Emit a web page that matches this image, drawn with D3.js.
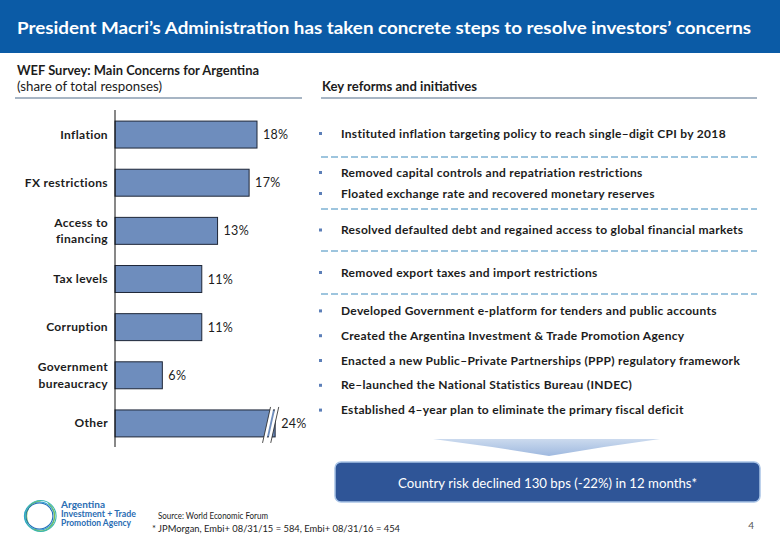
<!DOCTYPE html>
<html>
<head>
<meta charset="utf-8">
<script src="https://cdn.jsdelivr.net/npm/d3@7"></script>
<style>
  html, body { margin: 0; padding: 0; background: #fff; }
  svg { display: block; font-family: Lato, "Open Sans", sans-serif; }
</style>
</head>
<body>
<svg id="chart" width="780" height="540"></svg>
<script>
// ---------------- DATA ----------------
const title = "President Macri\u2019s Administration has taken concrete steps to resolve investors\u2019 concerns";
const chartTitle = ["WEF Survey: Main Concerns for Argentina", "(share of total responses)"];
const reformsTitle = "Key reforms and initiatives";
const categories = [["Inflation"], ["FX restrictions"], ["Access to", "financing"], ["Tax levels"], ["Corruption"], ["Government", "bureaucracy"], ["Other"]];
const values = [18, 17, 13, 11, 11, 6, 24];
const valueLabels = ["18%", "17%", "13%", "11%", "11%", "6%", "24%"];
const axisBreakValue = 20.3; // bars above this are shown with an axis break
const reformGroups = [
  ["Instituted inflation targeting policy to reach single\u2013digit CPI by 2018"],
  ["Removed capital controls and repatriation restrictions",
   "Floated exchange rate and recovered monetary reserves"],
  ["Resolved defaulted debt and regained access to global financial markets"],
  ["Removed export taxes and import restrictions"],
  ["Developed Government e-platform for tenders and public accounts",
   "Created the Argentina Investment & Trade Promotion Agency",
   "Enacted a new Public\u2013Private Partnerships (PPP) regulatory framework",
   "Re\u2013launched the National Statistics Bureau (INDEC)",
   "Established 4\u2013year plan to eliminate the primary fiscal deficit"]
];
const conclusion = "Country risk declined 130 bps (-22%) in 12 months*";
const sourceNotes = ["Source: World Economic Forum", "* JPMorgan, Embi+ 08/31/15 = 584, Embi+ 08/31/16 = 454"];
const logoLines = ["Argentina", "Investment + Trade", "Promotion Agency"];
const pageNumber = "4";

// ---------------- DRAW ----------------
const svg = d3.select("#chart");
const dark = "#1c1c1c";

function fit(sel, w) {
  const n = sel.node();
  if (n.getComputedTextLength() > 0) sel.attr("textLength", w).attr("lengthAdjust", "spacingAndGlyphs");
  return sel;
}

// Header band
svg.append("rect").attr("x", 0).attr("y", 0).attr("width", 780).attr("height", 53).attr("fill", "#0b5ba6");
fit(svg.append("text").attr("x", 17).attr("y", 34).attr("fill", "#fff")
  .attr("font-size", 17.5).attr("font-weight", 700).text(title), 734);

// Left panel titles
fit(svg.append("text").attr("x", 17).attr("y", 75).attr("fill", dark)
  .attr("font-size", 12.5).attr("font-weight", 700).text(chartTitle[0]), 242);
fit(svg.append("text").attr("x", 17).attr("y", 91).attr("fill", dark)
  .attr("font-size", 12.5).attr("font-weight", 400).text(chartTitle[1]), 145);
svg.append("line").attr("x1", 15).attr("x2", 302).attr("y1", 98).attr("y2", 98)
  .attr("stroke", "#8a9cb1").attr("stroke-width", 1.3);

// Right panel title
fit(svg.append("text").attr("x", 322).attr("y", 91).attr("fill", dark)
  .attr("font-size", 12.5).attr("font-weight", 700).text(reformsTitle), 155);
svg.append("line").attr("x1", 321).attr("x2", 757).attr("y1", 98).attr("y2", 98)
  .attr("stroke", "#8a9cb1").attr("stroke-width", 1.3);

// Bar chart
const x = d3.scaleLinear().domain([0, 18]).range([115, 257]);
const y = d3.scaleBand().domain(d3.range(categories.length)).range([110.5, 447.5]).paddingInner(0.44).paddingOuter(0.22);

const g = svg.append("g");
g.selectAll("rect.bar").data(values).join("rect").attr("class", "bar")
  .attr("x", x(0)).attr("y", (d, i) => y(i))
  .attr("width", d => x(Math.min(d, axisBreakValue)) - x(0))
  .attr("height", y.bandwidth())
  .attr("fill", "#6e8dbd").attr("stroke", "#1e2637").attr("stroke-width", 1);

// axis break marks for truncated bars
values.forEach((d, i) => {
  if (d > axisBreakValue) {
    const xe = x(axisBreakValue);
    const y0 = y(i) - 3, y1 = y(i) + y.bandwidth() + 6;
    [-10, -5].forEach(off => {
      g.append("line").attr("x1", xe + off + 7).attr("y1", y0).attr("x2", xe + off - 1).attr("y2", y1)
        .attr("stroke", "#fff").attr("stroke-width", 3);
    });
    [-11.6, -3.4].forEach(off => {
      g.append("line").attr("x1", xe + off + 7).attr("y1", y0).attr("x2", xe + off - 1).attr("y2", y1)
        .attr("stroke", "#222").attr("stroke-width", 0.8);
    });
  }
});

g.selectAll("text.val").data(values).join("text").attr("class", "val")
  .attr("x", d => x(Math.min(d, axisBreakValue)) + 6)
  .attr("y", (d, i) => y(i) + y.bandwidth() / 2 + 4.5)
  .attr("fill", dark).attr("font-size", 12.5).attr("letter-spacing", 0.3).text((d, i) => valueLabels[i]);

g.selectAll("text.cat").data(categories).join("text").attr("class", "cat")
  .attr("text-anchor", "end").attr("fill", dark).attr("font-size", 12).attr("font-weight", 700)
  .attr("letter-spacing", 0.35)
  .each(function (lines, i) {
    const t = d3.select(this);
    const cy = y(i) + y.bandwidth() / 2;
    lines.forEach((ln, k) => {
      t.append("tspan").attr("x", 108)
        .attr("y", cy + 4 + (k - (lines.length - 1) / 2) * 16.5).text(ln);
    });
  });

g.append("line").attr("x1", x(0)).attr("x2", x(0)).attr("y1", 110).attr("y2", 447)
  .attr("stroke", "#111").attr("stroke-width", 1);

// Reforms list
const regions = [[110, 157], [157, 209], [209, 251], [251, 294], [294, 427]];
const rl = svg.append("g");
reformGroups.forEach((grp, gi) => {
  const [top, bot] = regions[gi];
  const step = grp.length > 2 ? 24.8 : 21;
  const c = (top + bot) / 2;
  grp.forEach((item, k) => {
    const cy = c + (k - (grp.length - 1) / 2) * step;
    rl.append("rect").attr("x", 319).attr("y", cy - 1.5).attr("width", 3).attr("height", 3).attr("fill", "#5c7fb8");
    rl.append("text").attr("x", 341).attr("y", cy + 4).attr("fill", dark)
      .attr("font-size", 12).attr("font-weight", 700).attr("letter-spacing", 0.3).text(item);
  });
  if (gi < reformGroups.length - 1) {
    rl.append("line").attr("x1", 321).attr("x2", 757).attr("y1", bot).attr("y2", bot)
      .attr("stroke", "#3d8bbd").attr("stroke-width", 1).attr("stroke-dasharray", "7,3");
  }
});

// Arrow
const defs = svg.append("defs");
const grad = defs.append("linearGradient").attr("id", "arrowGrad").attr("x1", 0).attr("y1", 0).attr("x2", 0).attr("y2", 1);
grad.append("stop").attr("offset", "0%").attr("stop-color", "#cbdaee");
grad.append("stop").attr("offset", "100%").attr("stop-color", "#9fb9df");
svg.append("path").attr("d", "M433,439 L660,439 L604,447 L549,456 L492,447 Z").attr("fill", "url(#arrowGrad)");

// Conclusion box
svg.append("rect").attr("x", 335).attr("y", 462).attr("width", 425).attr("height", 40).attr("rx", 6)
  .attr("fill", "#2f5597").attr("stroke", "#a9c4e6").attr("stroke-width", 1.5);
fit(svg.append("text").attr("x", 398).attr("y", 488).attr("fill", "#fff")
  .attr("font-size", 13).attr("font-weight", 400).text(conclusion), 299);

// Logo
const logo = svg.append("g");
[["#2a9fd6", 15, 14], ["#7cc24e", 14, 15], ["#1f6db5", 13.5, 13], ["#39b5b0", 15.5, 15.5]].forEach(([col, rx, ry], k) => {
  logo.append("ellipse").attr("cx", 40 + (k % 2 ? 0.6 : -0.6)).attr("cy", 516).attr("rx", rx).attr("ry", ry)
    .attr("fill", "none").attr("stroke", col).attr("stroke-width", 1.1).attr("stroke-dasharray", k === 1 ? "30,8" : null);
});
logoLines.forEach((t, i) => {
  fit(logo.append("text").attr("x", 61).attr("y", 507.5 + i * 9.3).attr("fill", "#2a6db3")
    .attr("font-size", 8.6).attr("font-weight", 700).text(t), [44, 75, 70][i]);
});

// Source notes
fit(svg.append("text").attr("x", 158).attr("y", 519).attr("fill", dark).attr("font-size", 8.5).text(sourceNotes[0]), 110);
fit(svg.append("text").attr("x", 152).attr("y", 532).attr("fill", dark).attr("font-size", 8.5).text(sourceNotes[1]), 248);

// Page number
svg.append("text").attr("x", 754).attr("y", 529).attr("text-anchor", "end").attr("fill", "#555")
  .attr("font-size", 10).text(pageNumber);
</script>
</body>
</html>
